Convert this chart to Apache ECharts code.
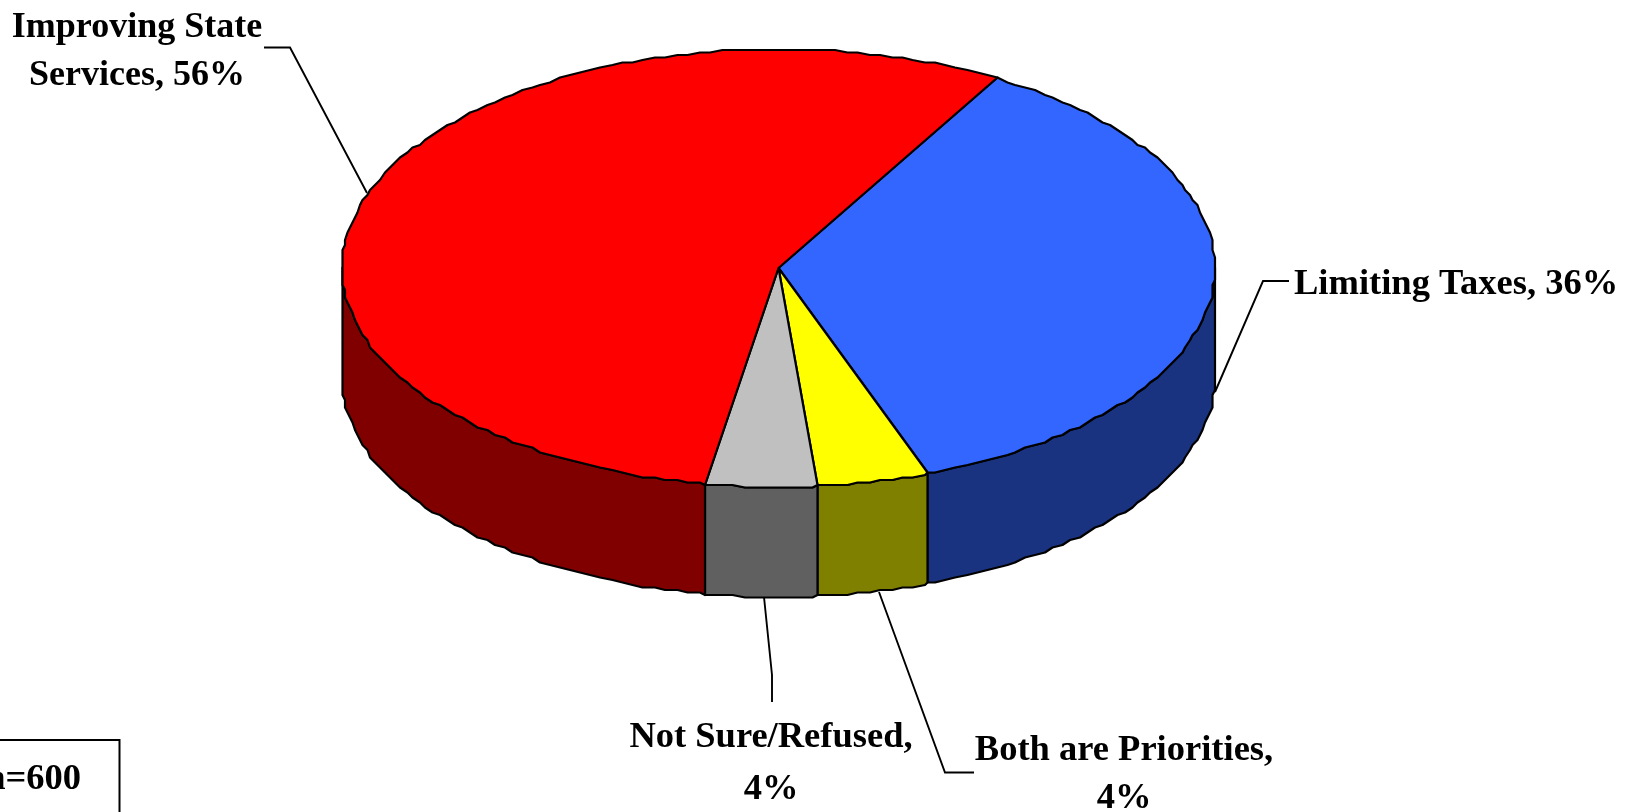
<!DOCTYPE html>
<html>
<head>
<meta charset="utf-8">
<style>html,body{margin:0;padding:0;background:#fff;overflow:hidden}#c{width:1629px;height:812px}</style>
<script src="https://cdn.jsdelivr.net/npm/echarts@6/dist/echarts.min.js"></script>
</head>
<body>
<div id="c"></div>
<script>
// ---- data ----
const categories = ['Limiting Taxes', 'Both are Priorities', 'Not Sure/Refused', 'Improving State Services'];
// slice sizes
const values = [36.1, 4.1, 4.2, 55.6];
// percentages as printed on the labels
const percentLabels = [36, 4, 4, 56];
const sampleNote = 'n=600';

// ---- styles and layout ----
const topColors = ['#3366FF', '#FFFF00', '#C0C0C0', '#FF0000'];
const sideColors = ['#1A3380', '#808000', '#606060', '#800000'];
const pie = { cx: 778.5, cy: 268, rx: 436.5, ry: 219, depth: 110, startDeg: 30, grid: 2.5, stepDeg: 1.5 };
const FONT = '"Liberation Serif","Times New Roman",serif';
const FONT_SIZE = 36.5;
const labelLayout = [
  { x: 1294, y: 285, size: 36.5, align: 'left', lh: 48, breakAfter: null, leader: [[1289, 281], [1263, 281], [1215, 392]] },
  { x: 1124, y: 775, size: 36.5, align: 'center', lh: 48, breakAfter: 'Priorities,', leader: [[879, 592], [945, 772.5], [974, 772.5]] },
  { x: 771, y: 764, size: 36.5, align: 'center', lh: 52, breakAfter: 'Refused,', leader: [[764, 597], [772, 675], [772, 702]] },
  { x: 137, y: 52, size: 36, align: 'center', lh: 48, breakAfter: 'State', leader: [[264, 47.5], [290, 47.5], [367, 193]] }
];

const total = values.reduce((a, b) => a + b, 0);
const spans = [];
values.reduce((acc, v) => { const end = acc + v / total * 360; spans.push([acc, end]); return end; }, pie.startDeg);

function pt(deg, dy) {
  const a = deg * Math.PI / 180;
  const g = pie.grid;
  const x = pie.cx + pie.rx * Math.sin(a);
  const y = pie.cy - pie.ry * Math.cos(a);
  return [Math.round(x / g) * g, Math.round(y / g) * g + dy];
}
function arc(a0, a1, dy) {
  const pts = [pt(a0, dy)];
  const s = pie.stepDeg;
  for (let k = Math.ceil(a0 / s + 1e-6); k * s < a1 - 1e-6; k++) pts.push(pt(k * s, dy));
  pts.push(pt(a1, dy));
  return pts;
}
const stroke = { stroke: '#000', lineWidth: 2.2, lineJoin: 'round' };

function renderSide(params, api) {
  const [a0, a1] = spans[params.dataIndex];
  // only the front half of the rim faces the viewer
  const ranges = [[Math.max(a0, 90), Math.min(a1, 270)]];
  const children = ranges.filter(r => r[1] > r[0]).map(r => ({
    type: 'polygon',
    shape: { points: arc(r[0], r[1], 0).concat(arc(r[0], r[1], pie.depth).reverse()) },
    style: Object.assign({ fill: sideColors[params.dataIndex] }, stroke)
  }));
  return { type: 'group', children };
}
function renderTop(params, api) {
  const [a0, a1] = spans[params.dataIndex];
  return {
    type: 'polygon',
    shape: { points: [[pie.cx, pie.cy]].concat(arc(a0, a1, 0)) },
    style: Object.assign({ fill: topColors[params.dataIndex] }, stroke)
  };
}

const graphics = [];
categories.forEach((name, i) => {
  const l = labelLayout[i];
  let text = name + ', ' + percentLabels[i] + '%';
  if (l.breakAfter) text = text.replace(l.breakAfter + ' ', l.breakAfter + '\n');
  graphics.push({
    type: 'polyline', silent: true, z: 5,
    shape: { points: l.leader },
    style: { stroke: '#000', lineWidth: 1.9, fill: null }
  });
  graphics.push({
    type: 'text', silent: true, z: 6, x: l.x, y: l.y,
    style: { text, font: 'bold ' + l.size + 'px ' + FONT, fill: '#000', align: l.align, verticalAlign: 'middle', lineHeight: l.lh }
  });
});
graphics.push({
  type: 'polyline', silent: true, z: 5,
  shape: { points: [[-5, 740], [119.5, 740], [119.5, 820]] },
  style: { stroke: '#000', lineWidth: 2, fill: null }
});
graphics.push({
  type: 'text', silent: true, z: 6, x: 81, y: 780,
  style: { text: sampleNote, font: 'bold ' + FONT_SIZE + 'px ' + FONT, fill: '#000', align: 'right', verticalAlign: 'middle' }
});

const chart = echarts.init(document.getElementById('c'));
chart.setOption({
  animation: false,
  backgroundColor: '#fff',
  tooltip: { show: false },
  series: [
    { type: 'custom', name: 'rim', coordinateSystem: 'none', renderItem: renderSide, data: values, silent: true, z: 2 },
    { type: 'custom', name: 'top', coordinateSystem: 'none', renderItem: renderTop, data: values, silent: true, z: 3 }
  ],
  graphic: graphics
});
</script>
</body>
</html>
